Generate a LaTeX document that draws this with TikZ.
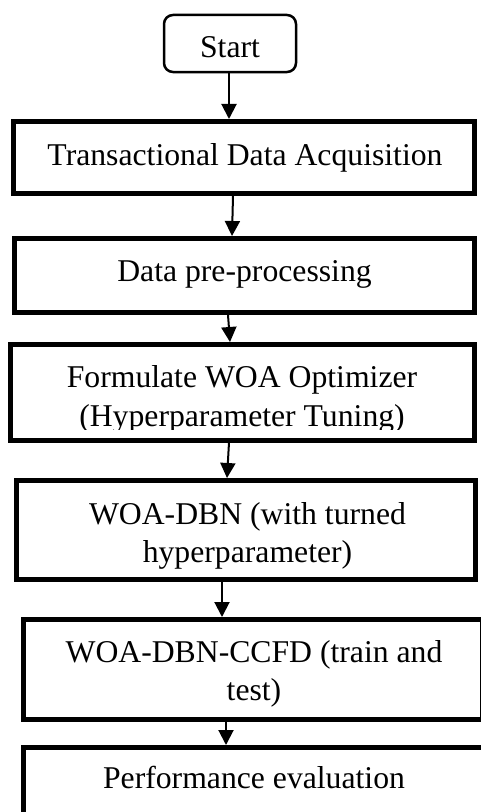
\documentclass[tikz,border=0pt]{standalone}
\usepackage{fontspec}
\setmainfont{Liberation Serif}
\usetikzlibrary{arrows.meta}

\begin{document}
\begin{tikzpicture}[x=1bp, y=-1bp,
  stagebox/.style={draw=black, line width=5bp, fill=white, rectangle, inner sep=0pt},
  startbox/.style={draw=black, line width=2.5bp, fill=white, rectangle, rounded corners=9bp, inner sep=0pt},
  txt/.style={anchor=base, inner sep=0pt, font=\fontsize{31.7bp}{38.5bp}\selectfont},
  flow/.style={draw=black, line width=2bp, -{Triangle[width=15bp,length=15bp]}}]

  \useasboundingbox (0,0) rectangle (481,812);
  \fill[white] (0,0) rectangle (481,812);

  % start terminal
  \node[startbox, minimum width=132bp, minimum height=57bp] (start) at (230,43.5) {};
  \node[txt] (tstart) at (230,57.3) {Start};

  % process stages
  \node[stagebox, minimum width=460.5bp, minimum height=72bp]   (b1) at (244.25,157.5) {};
  \node[stagebox, minimum width=459bp,   minimum height=74bp]   (b2) at (244.5,275.5) {};
  \node[stagebox, minimum width=463.5bp, minimum height=95.5bp] (b3) at (242.25,392.25) {};
  \node[stagebox, minimum width=459bp,   minimum height=98.5bp] (b4) at (246,529.75) {};
  \node[stagebox, minimum width=459.2bp, minimum height=100bp]  (b5) at (252.9,669.5) {};
  \node[stagebox, minimum width=459bp,   minimum height=68.5bp] (b6) at (253.5,781.75) {};

  % stage labels
  \node[txt] (t1)  at (245,165)   {Transactional Data Acquisition};
  \node[txt] (t2)  at (244.5,281) {Data pre-processing};
  \begin{scope}
    \clip (b3.north west) rectangle (474,429.5);
    \node[txt] (t3a) at (242,387.3) {Formulate WOA Optimizer};
    \node[txt] (t3b) at (242,426)   {(Hyperparameter Tuning)};
  \end{scope}
  \node[txt] (t4a) at (247.5,524) {WOA-DBN (with turned};
  \node[txt] (t4b) at (247.5,562) {hyperparameter)};
  \node[txt] (t5a) at (254,662)   {WOA-DBN-CCFD (train and};
  \node[txt] (t5b) at (254,700)   {test)};
  \node[txt] (t6)  at (254,788)   {Performance evaluation};

  % connectors
  \draw[flow] (start.south -| 229,0) -- (b1.north -| 229,0);
  \draw[flow] (b1.south -| 233,0) -- (b2.north -| 232,0);
  \draw[flow] (b2.south -| 228,0) -- (b3.north -| 230,0);
  \draw[flow] (b3.south -| 229,0) -- (b4.north -| 227,0);
  \draw[flow] (b4.south -| 222,0) -- (b5.north -| 222,0);
  \draw[flow] (b5.south -| 226,0) -- (b6.north -| 226,0);
\end{tikzpicture}
\end{document}
